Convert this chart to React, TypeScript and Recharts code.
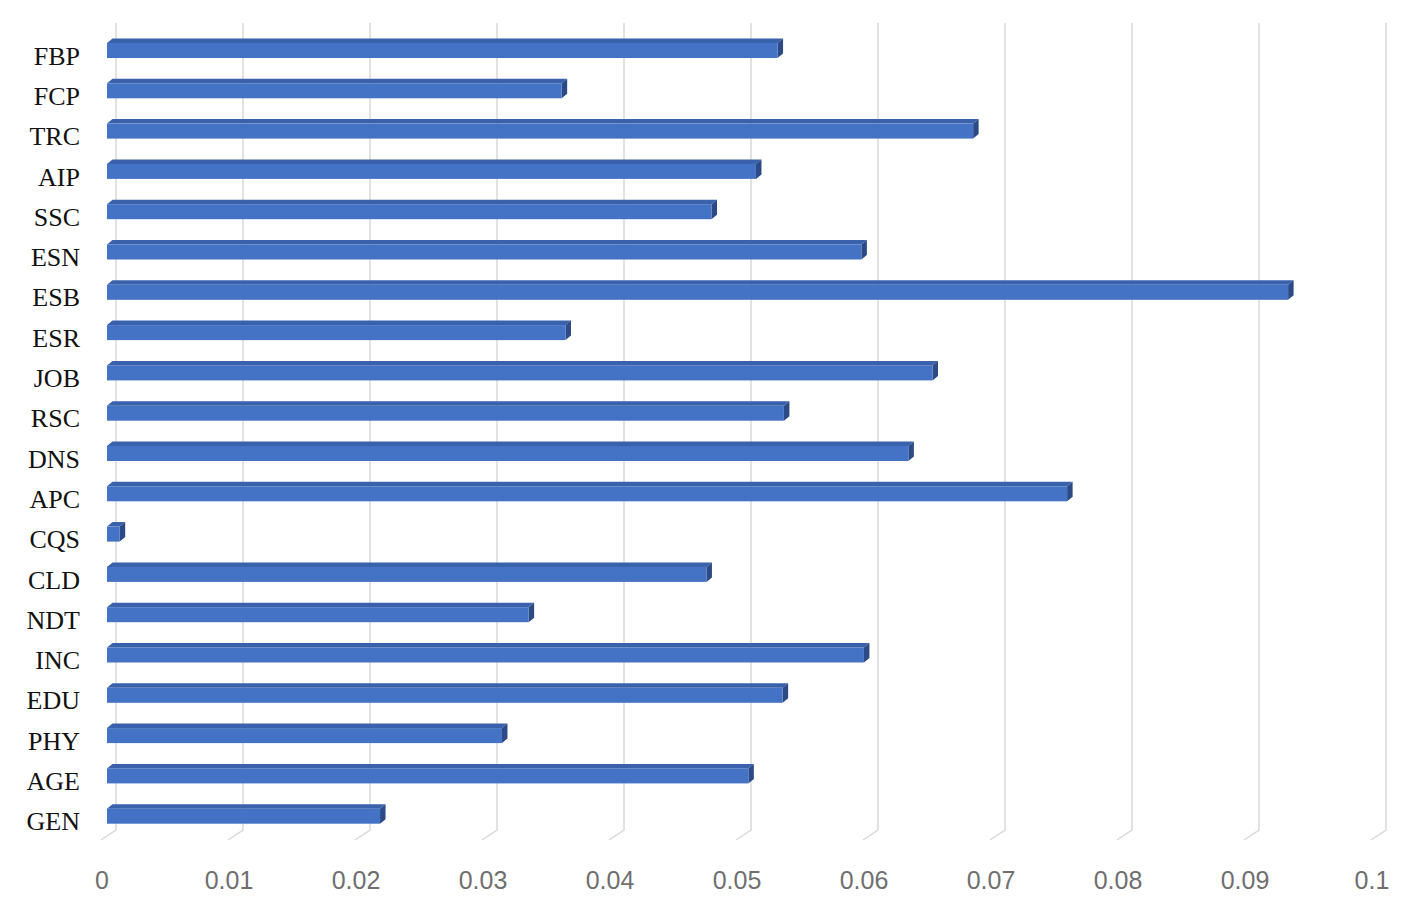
import { Bar, BarChart, CartesianGrid, XAxis, YAxis } from 'recharts';

const categories = [
  'FBP', 'FCP', 'TRC', 'AIP', 'SSC', 'ESN', 'ESB', 'ESR', 'JOB', 'RSC',
  'DNS', 'APC', 'CQS', 'CLD', 'NDT', 'INC', 'EDU', 'PHY', 'AGE', 'GEN',
];
const weights = [
  0.0528, 0.0358, 0.0682, 0.0511, 0.0476, 0.0594, 0.093, 0.0361, 0.065, 0.0533,
  0.0631, 0.0756, 0.001, 0.0472, 0.0332, 0.0596, 0.0532, 0.0311, 0.0505, 0.0215,
];
const xTicks = [0, 0.01, 0.02, 0.03, 0.04, 0.05, 0.06, 0.07, 0.08, 0.09, 0.1];

const rows = categories.map((name, i) => ({ name, value: weights[i] }));

const FRONT = '#4472c4';
const TOP = '#3a62ac';
const SIDE = '#2b4a86';
const DX = 5.5;
const DY = 4.5;

// extruded bar: front face + top face + right side face
function Bar3D(props: any) {
  const { x, y, width, height } = props;
  if (width == null || height == null) return null;
  const w = Math.max(width, 0);
  return (
    <g>
      <path
        d={`M${x},${y} L${x + DX},${y - DY} L${x + w + DX},${y - DY} L${x + w},${y} Z`}
        fill={TOP}
      />
      <path
        d={`M${x + w},${y} L${x + w + DX},${y - DY} L${x + w + DX},${y + height - DY} L${x + w},${y + height} Z`}
        fill={SIDE}
      />
      <rect x={x} y={y} width={w} height={height} fill={FRONT} />
    </g>
  );
}

function GridLine(props: any) {
  const { x1 } = props;
  return (
    <path
      key={props.key ?? `g-${props.index}`}
      d={`M${x1 + 9},23 L${x1 + 9},830 L${x1 - 6},840`}
      stroke="#d9d9d9"
      strokeWidth={1.5}
      fill="none"
    />
  );
}

function CategoryTick(props: any) {
  const { x, y, payload } = props;
  return (
    <text
      x={x - 27}
      y={y}
      dy={14.5}
      textAnchor="end"
      fontFamily="'Liberation Serif', 'Times New Roman', serif"
      fontSize={26}
      fill="#111"
    >
      {payload.value}
    </text>
  );
}

function ValueTick(props: any) {
  const { x, y, payload } = props;
  return (
    <text
      x={x - 5}
      y={y + 53}
      textAnchor="middle"
      fontFamily="'Liberation Sans', Arial, sans-serif"
      fontSize={25}
      fill="#6f6f6f"
    >
      {payload.value}
    </text>
  );
}

export default function App() {
  return (
    <div style={{ width: 1407, height: 910, background: '#fff' }}>
      <style>{'body{margin:0}'}</style>
      <BarChart
        width={1407}
        height={910}
        data={rows}
        layout="vertical"
        margin={{ top: 30, right: 30, left: 0, bottom: 14 }}
      >
        <CartesianGrid horizontal={false} vertical={GridLine} />
        <XAxis
          type="number"
          domain={[0, 0.1]}
          ticks={xTicks}
          allowDataOverflow
          axisLine={false}
          tickLine={false}
          tickSize={0}
          tickMargin={0}
          height={60}
          interval={0}
          tick={ValueTick}
        />
        <YAxis
          type="category"
          dataKey="name"
          width={107}
          axisLine={false}
          tickLine={false}
          tickSize={0}
          tickMargin={0}
          interval={0}
          tick={CategoryTick}
        />
        <Bar dataKey="value" barSize={15} shape={Bar3D} isAnimationActive={false} />
      </BarChart>
    </div>
  );
}
